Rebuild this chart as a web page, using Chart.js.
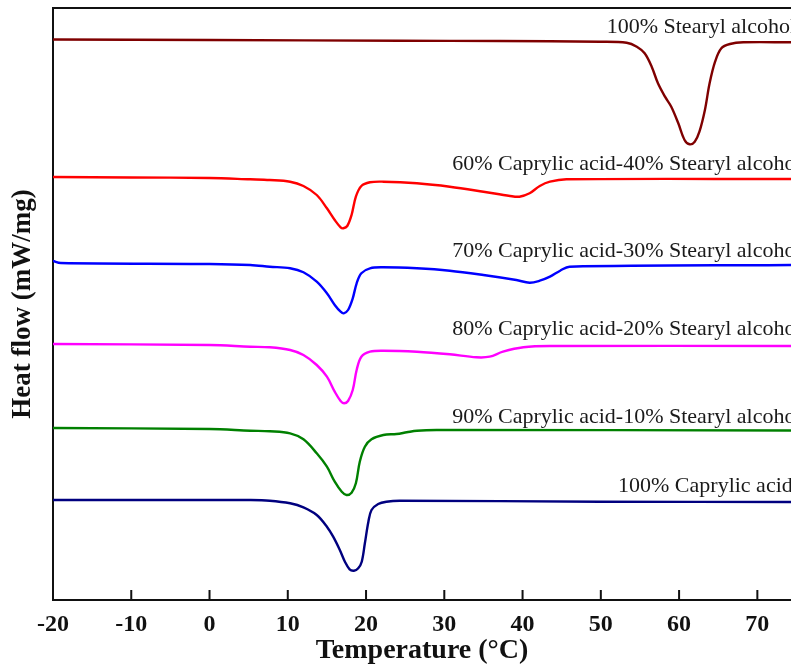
<!DOCTYPE html>
<html>
<head>
<meta charset="utf-8">
<script src="https://cdn.jsdelivr.net/npm/chart.js@4.4.1/dist/chart.umd.min.js"></script>
<style>
  html, body { margin: 0; padding: 0; background: #fff; overflow: hidden; }
  canvas { display: block; }
</style>
</head>
<body>
<canvas id="dsc" width="791" height="665"></canvas>
<script>
// DSC heating curves, stacked with vertical offsets (arbitrary heat-flow units)
const tempTicks = [-20, -10, 0, 10, 20, 30, 40, 50, 60, 70];

const seriesNames = [
  '100% Stearyl alcohol',
  '60% Caprylic acid-40% Stearyl alcohol',
  '70% Caprylic acid-30% Stearyl alcohol',
  '80% Caprylic acid-20% Stearyl alcohol',
  '90% Caprylic acid-10% Stearyl alcohol',
  '100% Caprylic acid'
];

const tSA100 = [-20, 0, 24.3, 37.1, 49.9, 53.3, 54.6, 55.6, 56.5, 57.3, 58.2, 59.0, 59.9, 60.7, 61.35, 62.0, 62.6, 63.3, 63.9, 64.6, 65.4, 66.5, 68.2, 74.3];
const hSA100 = [56.05, 56.0, 55.93, 55.9, 55.83, 55.73, 55.33, 54.67, 53.33, 51.67, 50.33, 49.33, 47.67, 46.0, 45.57, 45.83, 46.83, 49.0, 51.67, 53.83, 55.17, 55.6, 55.77, 55.77];

const tCA60 = [-20, -10, 0, 5.2, 7.7, 10.3, 12.0, 13.7, 15.0, 16.0, 16.75, 17.1, 17.6, 18.15, 18.7, 19.4, 20.5, 22.2, 26.5, 30.7, 35.0, 38.4, 39.6, 40.9, 42.2, 43.5, 45.6, 74.3];
const hCA60 = [42.3, 42.25, 42.2, 42.07, 42.0, 41.83, 41.4, 40.5, 39.17, 38.0, 37.27, 37.17, 37.4, 38.5, 40.33, 41.4, 41.77, 41.83, 41.67, 41.33, 40.83, 40.4, 40.33, 40.67, 41.4, 41.83, 42.07, 42.1];

const tCA70 = [-20, -19, 0, 5.2, 7.7, 10.3, 12.0, 13.7, 15.0, 16.0, 16.75, 17.15, 17.7, 18.3, 18.8, 19.4, 20.5, 22.2, 26.5, 30.7, 35.0, 39.2, 40.9, 42.2, 43.5, 44.8, 46.0, 74.3];
const hCA70 = [33.9, 33.7, 33.6, 33.5, 33.33, 33.17, 32.77, 31.83, 30.67, 29.5, 28.83, 28.67, 29.0, 30.17, 31.67, 32.67, 33.17, 33.27, 33.17, 32.93, 32.5, 32.0, 31.73, 31.93, 32.33, 32.93, 33.33, 33.5];

const tCA80 = [-20, 0, 5.2, 7.7, 10.3, 12.0, 13.7, 15.0, 16.0, 16.75, 17.2, 17.7, 18.3, 18.8, 19.4, 20.5, 22.2, 26.5, 30.7, 34.1, 35.8, 37.5, 40.1, 43.5, 74.3];
const hCA80 = [25.6, 25.5, 25.33, 25.27, 25.0, 24.5, 23.5, 22.33, 20.83, 19.9, 19.67, 19.9, 21.0, 23.0, 24.33, 24.83, 24.93, 24.83, 24.57, 24.27, 24.33, 24.83, 25.27, 25.4, 25.4];

const tCA90 = [-20, 0, 5.2, 7.7, 10.3, 12.0, 13.7, 15.0, 16.0, 16.9, 17.5, 18.15, 18.7, 19.2, 19.85, 20.7, 22.2, 23.9, 25.2, 26.5, 29.0, 74.3];
const hCA90 = [17.2, 17.1, 16.93, 16.87, 16.67, 16.07, 14.67, 13.33, 11.83, 10.83, 10.5, 10.73, 11.67, 13.83, 15.33, 16.07, 16.5, 16.6, 16.77, 16.93, 17.0, 16.95];

const tCA100 = [-20, 0, 5.2, 7.7, 10.3, 12.0, 13.7, 15.0, 15.8, 16.65, 17.3, 17.9, 18.45, 19.0, 19.45, 19.85, 20.3, 20.7, 21.55, 22.6, 24.3, 49.9, 74.3];
const hCA100 = [10.0, 10.0, 10.0, 9.93, 9.67, 9.27, 8.5, 7.33, 6.33, 5.0, 3.83, 3.07, 2.93, 3.17, 3.83, 5.67, 7.83, 9.0, 9.6, 9.83, 9.93, 9.83, 9.8];

const seriesTemps = [tSA100, tCA60, tCA70, tCA80, tCA90, tCA100];
const seriesFlows = [hSA100, hCA60, hCA70, hCA80, hCA90, hCA100];
const seriesColors = ['#7f0000', '#ff0000', '#0000ff', '#ff00ff', '#008000', '#00007f'];

// Where each curve's caption begins along the temperature axis
const captionStart = [50.75, 31.0, 31.0, 31.0, 31.0, 52.2];
const captionLift = [9, 9, 8, 11, 8, 10];

const serif = '"Liberation Serif", "Times New Roman", serif';

const datasets = seriesNames.map((name, i) => ({
  label: name,
  data: seriesTemps[i].map((t, j) => ({ x: t, y: seriesFlows[i][j] })),
  borderColor: seriesColors[i],
  borderWidth: 2.4,
  pointRadius: 0,
  fill: false,
  tension: 0.35
}));

// Frame top edge, inward x ticks and curve captions
const framePlugin = {
  id: 'frame',
  afterDraw(chart) {
    const { ctx, chartArea: a, scales } = chart;
    ctx.save();
    ctx.strokeStyle = '#111';
    ctx.lineWidth = 2;
    ctx.beginPath();
    ctx.moveTo(a.left - 1, a.top);
    ctx.lineTo(a.right, a.top);
    ctx.stroke();
    ctx.beginPath();
    scales.x.ticks.forEach(tk => {
      const px = scales.x.getPixelForValue(tk.value);
      ctx.moveTo(px, a.bottom);
      ctx.lineTo(px, a.bottom - 10);
    });
    ctx.stroke();

    ctx.fillStyle = '#1a1a1a';
    ctx.font = '22px ' + serif;
    ctx.textAlign = 'left';
    ctx.textBaseline = 'alphabetic';
    seriesNames.forEach((name, i) => {
      const flows = seriesFlows[i];
      const px = scales.x.getPixelForValue(captionStart[i]);
      const py = scales.y.getPixelForValue(flows[flows.length - 1]) - captionLift[i];
      ctx.fillText(name, px, py);
    });
    ctx.restore();
  }
};

new Chart(document.getElementById('dsc'), {
  type: 'line',
  data: { datasets },
  options: {
    responsive: false,
    devicePixelRatio: 1,
    animation: false,
    layout: { padding: { top: 8, right: 0, bottom: 0, left: 0 } },
    plugins: { legend: { display: false }, tooltip: { enabled: false } },
    scales: {
      x: {
        type: 'linear',
        min: -20,
        max: 74.3,
        afterBuildTicks: s => { s.ticks = tempTicks.map(v => ({ value: v })); },
        afterFit: s => { s.height = 65; },
        grid: { display: false, drawTicks: false },
        border: { display: true, color: '#111', width: 2 },
        ticks: {
          padding: 10,
          color: '#111',
          font: { family: serif, size: 24, weight: 'bold' }
        },
        title: {
          display: true,
          text: 'Temperature (°C)',
          color: '#111',
          padding: { top: 0, bottom: 0 },
          font: { family: serif, size: 28, weight: 'bold', lineHeight: 1 }
        }
      },
      y: {
        type: 'linear',
        min: 0,
        max: 59.2,
        afterFit: s => { s.width = 53; },
        grid: { display: false, drawTicks: false },
        border: { display: true, color: '#111', width: 2 },
        ticks: { display: false },
        title: {
          display: true,
          text: 'Heat flow (mW/mg)',
          color: '#111',
          padding: { top: 10, bottom: 0 },
          font: { family: serif, size: 27, weight: 'bold', lineHeight: 1 }
        }
      }
    }
  },
  plugins: [framePlugin]
});
</script>
</body>
</html>
